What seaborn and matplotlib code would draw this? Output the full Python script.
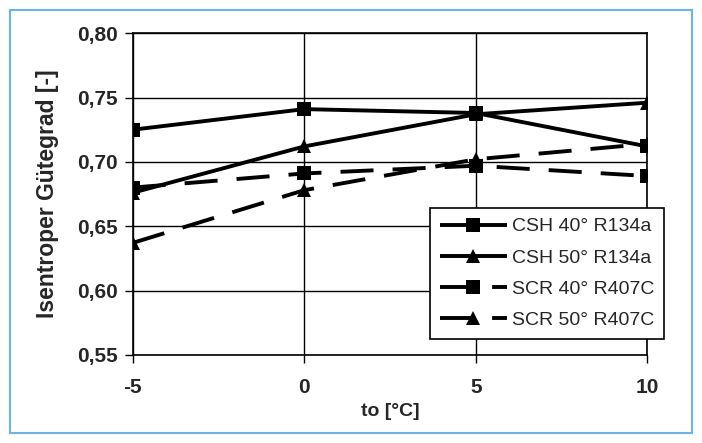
import numpy as np
import pandas as pd
import matplotlib
matplotlib.use('Agg')
import matplotlib.pyplot as plt
import seaborn as sns
from matplotlib.patches import Rectangle

# data
temps = [-5, 0, 5, 10]
csh40_r134a = [0.725, 0.741, 0.738, 0.712]
csh50_r134a = [0.676, 0.712, 0.737, 0.746]
scr40_r407c = [0.680, 0.691, 0.697, 0.689]
scr50_r407c = [0.637, 0.678, 0.702, 0.714]
series_names = ['CSH 40° R134a', 'CSH 50° R134a', 'SCR 40° R407C', 'SCR 50° R407C']
y_ticks = [0.55, 0.60, 0.65, 0.70, 0.75, 0.80]
y_labels = ['0,55', '0,60', '0,65', '0,70', '0,75', '0,80']

sns.set_theme(style='white')
plt.rcParams['font.family'] = ['Liberation Sans', 'DejaVu Sans']

df = pd.DataFrame({
    'to': temps * 4,
    'eta': csh40_r134a + csh50_r134a + scr40_r407c + scr50_r407c,
    'Serie': sum([[n] * len(temps) for n in series_names], []),
})

fig = plt.figure(figsize=(7.02, 4.43), dpi=100)
ax = fig.add_axes([0.189, 0.199, 0.733, 0.726])

sns.lineplot(data=df, x='to', y='eta', hue='Serie', style='Serie',
             palette=['black'] * 4,
             markers={'CSH 40° R134a': 's', 'CSH 50° R134a': '^',
                      'SCR 40° R407C': 's', 'SCR 50° R407C': '^'},
             dashes={'CSH 40° R134a': '', 'CSH 50° R134a': '',
                     'SCR 40° R407C': (8.5, 4.9), 'SCR 50° R407C': (8.5, 4.9)},
             linewidth=2.8, markersize=10.5, markeredgewidth=0,
             ax=ax, legend=True)
for ln in ax.lines:
    ln.set_dash_capstyle('butt')
    ln.set_solid_capstyle('butt')

ax.set_xlim(-5, 10)
ax.set_ylim(0.55, 0.80)
ax.set_xticks(temps)
ax.set_xticklabels([str(t) for t in temps], fontsize=15, fontweight='bold')
ax.set_yticks(y_ticks)
ax.set_yticklabels(y_labels, fontsize=15, fontweight='bold')
ax.grid(True, color='black', linewidth=1)
for s in ax.spines.values():
    s.set_color('black')
    s.set_linewidth(1.2)
ax.tick_params(axis='both', direction='out', length=6, width=1, color='black',
               left=True, bottom=True)
ax.tick_params(axis='x', pad=11)
ax.tick_params(axis='y', pad=5)
ax.set_xlabel('to [°C]', fontsize=14, fontweight='bold', labelpad=4)
ax.set_ylabel('Isentroper Gütegrad [-]', fontsize=16.5, fontweight='bold', labelpad=13)

leg = ax.legend(loc='lower left', bbox_to_anchor=(0.578, 0.05), fontsize=14,
                handlelength=3.45, frameon=True, fancybox=False,
                edgecolor='black', borderpad=0.5, labelspacing=0.7,
                handletextpad=0.25, borderaxespad=0)
leg.get_frame().set_linewidth(1.2)
leg.get_frame().set_alpha(1)

# light blue frame around the whole figure
fig.patches.append(Rectangle((10 / 702, 10 / 443), 682 / 702, 423 / 443,
                             transform=fig.transFigure, fill=False,
                             edgecolor='#6cb4e4', linewidth=1.5))

fig.savefig('out.png', dpi=100)
